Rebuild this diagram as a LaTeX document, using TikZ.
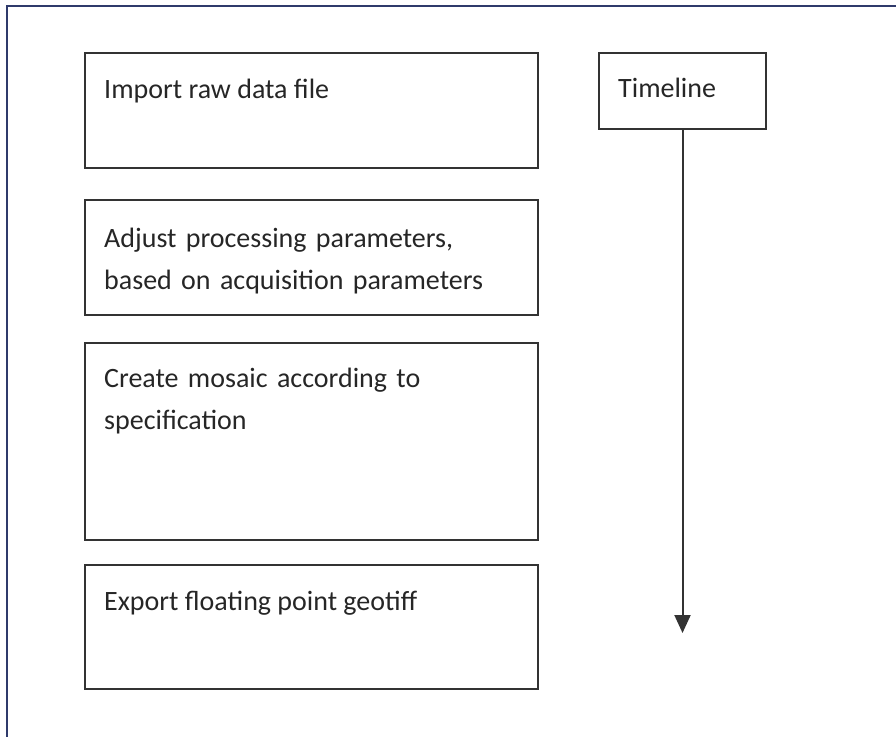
\documentclass[tikz,border=0pt]{standalone}
\usepackage{fontspec}
\setmainfont{Carlito}
\usepackage{xcolor}
\usetikzlibrary{arrows.meta, positioning}
\definecolor{framenavy}{HTML}{2F3A6B}
\definecolor{boxgray}{HTML}{333333}
\definecolor{textgray}{HTML}{262626}

\begin{document}
\begin{tikzpicture}[x=1pt, y=-1pt,
    stepbox/.style={draw=boxgray, line width=2pt, rectangle, inner sep=0pt},
    steptext/.style={anchor=base west, inner sep=0pt, text=textgray, align=left,
        font=\fontsize{28}{42}\selectfont}]
    \useasboundingbox (0,0) rectangle (896,737);
    % Rahmen
    \draw[framenavy, line width=2pt] (896,5.5) -- (7,5.5) -- (7,737);

    % Arbeitsschritte
    \node[stepbox, minimum width=453pt, minimum height=115pt] (import) at (311.5,110.5) {};
    \node[stepbox, minimum width=453pt, minimum height=115pt] (adjust) at (311.5,257.5) {};
    \node[stepbox, minimum width=453pt, minimum height=197pt] (mosaic) at (311.5,441.5) {};
    \node[stepbox, minimum width=453pt, minimum height=124pt] (export) at (311.5,627) {};

    \node[steptext] (importtext) at ([shift={(20,46)}]import.north west) {Import raw data file};
    \node[steptext, text width=420pt] (adjusttext) at ([shift={(20,48)}]adjust.north west)
        {Adjust processing parameters,\\based on acquisition parameters};
    \node[steptext, text width=420pt] (mosaictext) at ([shift={(20,45)}]mosaic.north west)
        {Create mosaic according to\\specification};
    \node[steptext] (exporttext) at ([shift={(20,46)}]export.north west) {Export floating point geotiff};

    % Zeitachse
    \node[stepbox, minimum width=167pt, minimum height=76pt] (timeline) at (682.5,91) {};
    \node[steptext] (timelinetext) at ([shift={(20,45)}]timeline.north west) {Timeline};
    \coordinate (timeend) at (682.5,633);
    \draw[boxgray, line width=2pt, -{Triangle[length=18pt, width=16pt]}] (timeline.south) -- (timeend);
\end{tikzpicture}
\end{document}
